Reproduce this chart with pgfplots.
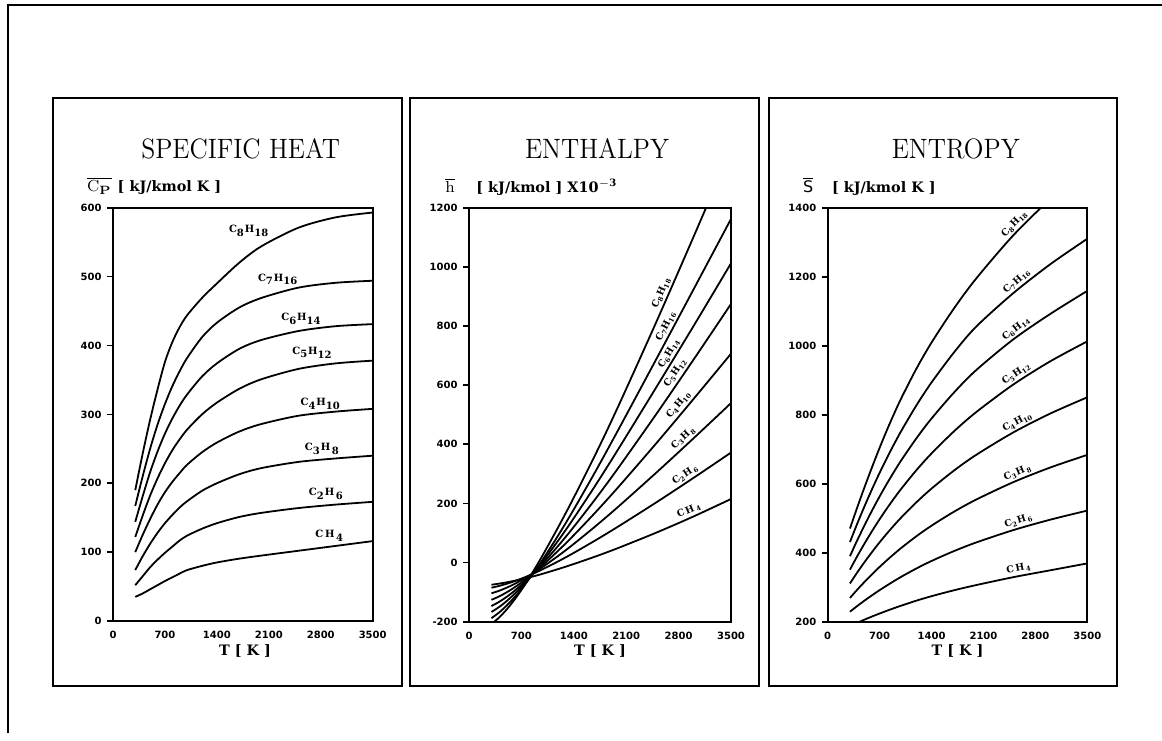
\documentclass[border=0pt]{standalone}
\usepackage{fontspec}
\usepackage{graphicx}
\usepackage{pgfplots}
\usepackage{pgfplotstable}
\pgfplotsset{compat=1.18}
\newfontfamily\tickfont{DejaVu Sans}
\newfontfamily\labfont{DejaVu Serif}
\newcommand\ovl[1]{\setbox0\hbox{#1}\rlap{\raisebox{\dimexpr\ht0+0.7pt\relax}{\rule{\wd0}{0.45pt}}}\box0}

% Specific heat, kJ/kmol K
\pgfplotstableread{
T    CH4   C2H6 C3H8 C4H10 C5H12 C6H14 C7H16 C8H18
300  35    52   74   100   122   144   167   190
400  40    65   94   125   153   181   210   243
500  46    78   112  148   182   216   250   292
600  52    89   128  169   207   246   285   336
700  58    99   142  187   229   272   315   376
800  63.5  108  154  202   248   294   341   405
900  69    117  165  215   264   313   363   427
1000 74    124  174  227   278   329   382   444
1200 80    134  189  245   300   355   412   469
1400 85    142  200  259   317   374   433   490
1700 90.5  151  213  275   337   395   455   520
2000 95    157  222  286   351   408   469   544
2500 102   164  231  298   366   421   484   571
3000 109   169  236  304   374   428   491   586
3500 116   173  240  308   378   431   494   593
}\cpdata

% Enthalpy, kJ/kmol x 10^-3
\pgfplotstableread{
T    CH4    C2H6   C3H8   C4H10  C5H12  C6H14  C7H16  C8H18
300  -75    -85    -104   -126   -147   -167   -188   -208
400  -71.3  -79.2  -95.6  -114.8 -133.3 -150.8 -169.2 -186.4
500  -67    -72    -85.3  -101.1 -116.5 -130.9 -146.2 -159.6
600  -62    -63.7  -73.3  -85.3  -97.1  -107.8 -119.4 -128.2
700  -56.5  -54.3  -59.8  -67.5  -75.3  -81.9  -89.4  -92.6
800  -50.5  -43.9  -45    -48    -51.4  -53.6  -56.6  -53.6
900  -43.9  -32.7  -29.1  -27.2  -25.8  -23.3  -21.4  -11.9
1000 -36.7  -20.6  -12.1  -5.1   1.3    8.9    15.9   31.8
1200 -21.3  5.2    24.2   42.2   59.1   77.3   95.3   123.6
1400 -4.8   32.8   63.1   92.6   120.8  150.2  179.8  219.8
1700 21.5   76.8   125.1  172.7  218.9  265.5  313    371.3
2000 50     123    190.3  256.8  322.1  386    451.6  531.8
2500 101    203.2  303.6  402.8  501.4  592    687    812.3
3000 156    286.5  420.3  553.3  686.4  800    924    1101.8
3500 215    372    539.3  706.3  874.4  1012   1162   1396.6
}\hdata

% Entropy, kJ/kmol K
\pgfplotstableread{
T    CH4    C2H6   C3H8   C4H10  C5H12  C6H14  C7H16  C8H18
300  186    229    269    311    351    390    431    470
400  196.8  245.8  293.2  343.4  390.6  436.8  485.2  532.3
500  206.4  261.8  316.2  373.8  427.9  481    536.5  592
600  215.3  277    338    402.7  463.4  523.2  585.3  649.2
700  223.8  291.5  358.9  430.2  497    563.1  631.6  704.1
800  231.9  305.3  378.6  456.1  528.9  600.9  675.4  756.2
900  239.7  318.6  397.4  480.7  559    636.6  716.8  805.3
1000 247.2  331.3  415.3  504    587.6  670.5  756.1  851.4
1200 261.3  354.8  448.4  547    640.3  732.8  828.5  935
1400 274    376.1  478.4  585.9  687.8  789    893.6  1009.2
1700 291    404.5  518.5  637.7  751.3  863.7  979.8  1107.3
2000 306.1  429.5  553.8  683.3  807.2  928.9  1054.9 1194.2
2500 329    465.4  604.3  748.4  887.2  1018   1152   1319.4
3000 349    495.7  646.9  803.3  954.7  1092   1236   1424.9
3500 369    522.1  683.6  850.5  1012.6 1159   1310   1515.8
}\sdata

\tikzset{clab/.style={font=\labfont\bfseries\fontsize{5}{6}\selectfont, inner sep=0pt},
  rlab/.style={font=\labfont\bfseries\fontsize{4.7}{5.5}\selectfont, anchor=south, inner sep=1.1pt}}
\pgfplotsset{panel/.style={
  scale only axis, anchor=south west,
  xmin=0, xmax=3500, xtick={0,700,...,3500},
  axis line style={line width=0.9pt},
  tick align=outside,
  major tick length=3pt,
  xtick pos=bottom, ytick pos=left,
  xtick style={draw=none},
  ytick style={line width=0.8pt, black},
  tick label style={font=\tickfont\bfseries\fontsize{5}{6}\selectfont},
  /pgf/number format/assume math mode=true,
  /pgf/number format/1000 sep={},
  yticklabel style={xshift=0.8pt},
  xticklabel style={yshift=1.5pt},
  cycle list={{black,solid}},
  every axis plot/.append style={line width=0.9pt, no markers, smooth},
}}

\begin{document}
\begin{tikzpicture}
\begin{scope}[x=0.5pt,y=-0.5pt]
\useasboundingbox (0,0) rectangle (1162,740);
\draw[line width=0.7pt] (8,733) -- (8,5) -- (1162,5);
\draw[line width=0.6pt] (53,98) rectangle (402,686);
\draw[line width=0.6pt] (410,98) rectangle (759,686);
\draw[line width=0.6pt] (769,98) rectangle (1117,686);
% titles
\node[anchor=base, font=\fontsize{14}{16}\selectfont, inner sep=0] at (240.7,158.3) {\scalebox{0.92}[1]{SPECIFIC HEAT}};
\node[anchor=base, font=\fontsize{14}{16}\selectfont, inner sep=0] at (597,158.3) {\scalebox{0.92}[1]{ENTHALPY}};
\node[anchor=base, font=\fontsize{14}{16}\selectfont, inner sep=0] at (955.7,158.3) {\scalebox{0.92}[1]{ENTROPY}};
% y labels
\node[anchor=base west, inner sep=0, font=\fontsize{8}{9}\selectfont] at (86.7,191.7) {\ovl{C\textsubscript{\bfseries P}}};
\node[anchor=base west, inner sep=0, font=\labfont\bfseries\fontsize{7.2}{9}\selectfont] at (117.3,191.7) {[ kJ/kmol K ]};
\node[anchor=base west, inner sep=0, font=\fontsize{8}{9}\selectfont] at (445,192.7) {\ovl{h}};
\node[anchor=base west, inner sep=0, font=\labfont\bfseries\fontsize{7.2}{9}\selectfont] at (476,192.7) {[ kJ/kmol ] X10\textsuperscript{$\mathbf{-}$3}};
\node[anchor=base west, inner sep=0, font=\tickfont\fontsize{8}{9}\selectfont] at (802.7,192.3) {\ovl{S}};
\node[anchor=base west, inner sep=0, font=\labfont\bfseries\fontsize{7.2}{9}\selectfont] at (831.7,192.3) {[ kJ/kmol K ]};
% x labels
\node[anchor=base, inner sep=0, font=\labfont\bfseries\fontsize{7.2}{9}\selectfont] at (245,655) {T [ K ]};
\node[anchor=base, inner sep=0, font=\labfont\bfseries\fontsize{7.2}{9}\selectfont] at (600,655) {T [ K ]};
\node[anchor=base, inner sep=0, font=\labfont\bfseries\fontsize{7.2}{9}\selectfont] at (957.5,655) {T [ K ]};
\end{scope}

% ---------- Specific heat ----------
\begin{axis}[panel, at={(56.5pt,-310.5pt)}, width=129.85pt, height=206.65pt,
  ymin=0, ymax=600, ytick={0,100,...,600}]
\addplot table[x=T,y=CH4]{\cpdata};
\addplot table[x=T,y=C2H6]{\cpdata};
\addplot table[x=T,y=C3H8]{\cpdata};
\addplot table[x=T,y=C4H10]{\cpdata};
\addplot table[x=T,y=C5H12]{\cpdata};
\addplot table[x=T,y=C6H14]{\cpdata};
\addplot table[x=T,y=C7H16]{\cpdata};
\addplot table[x=T,y=C8H18]{\cpdata};
\node[clab] at (axis cs:1835,566) {C\textsubscript{8}H\textsubscript{18}};
\node[clab] at (axis cs:2226,496) {C\textsubscript{7}H\textsubscript{16}};
\node[clab] at (axis cs:2540,438) {C\textsubscript{6}H\textsubscript{14}};
\node[clab] at (axis cs:2688,390) {C\textsubscript{5}H\textsubscript{12}};
\node[clab] at (axis cs:2799,315) {C\textsubscript{4}H\textsubscript{10}};
\node[clab] at (axis cs:2822,250) {C\textsubscript{3}H\,\textsubscript{8}};
\node[clab] at (axis cs:2876,185) {C\textsubscript{2}H\,\textsubscript{6}};
\node[clab] at (axis cs:2921,124) {C\,H\,\textsubscript{4}};
\end{axis}

% ---------- Enthalpy ----------
\begin{axis}[panel, at={(234.5pt,-310.85pt)}, width=131pt, height=207pt,
  ymin=-200, ymax=1200, ytick={-200,0,...,1200}]
\addplot table[x=T,y=CH4]{\hdata};
\addplot table[x=T,y=C2H6]{\hdata};
\addplot table[x=T,y=C3H8]{\hdata};
\addplot table[x=T,y=C4H10]{\hdata};
\addplot table[x=T,y=C5H12]{\hdata};
\addplot table[x=T,y=C6H14]{\hdata};
\addplot table[x=T,y=C7H16]{\hdata};
\addplot table[x=T,y=C8H18]{\hdata};
\node[rlab, rotate=66] at (axis cs:2657,903) {C\textsubscript{8}H\textsubscript{18}};
\node[rlab, rotate=63] at (axis cs:2715,788) {C\textsubscript{7}H\textsubscript{16}};
\node[rlab, rotate=59] at (axis cs:2755,695) {C\textsubscript{6}H\textsubscript{14}};
\node[rlab, rotate=56] at (axis cs:2835,628) {C\textsubscript{5}H\textsubscript{12}};
\node[rlab, rotate=50] at (axis cs:2875,517) {C\textsubscript{4}H\textsubscript{10}};
\node[rlab, rotate=43] at (axis cs:2932,404) {C\textsubscript{3}H\,\textsubscript{8}};
\node[rlab, rotate=34] at (axis cs:2945,277) {C\textsubscript{2}H\,\textsubscript{6}};
\node[rlab, rotate=23] at (axis cs:2978,154) {C\,H\,\textsubscript{4}};
\end{axis}

% ---------- Entropy ----------
\begin{axis}[panel, at={(413.85pt,-310.85pt)}, width=129.8pt, height=207pt,
  ymin=200, ymax=1400, ytick={200,400,...,1400}]
\addplot table[x=T,y=CH4]{\sdata};
\addplot table[x=T,y=C2H6]{\sdata};
\addplot table[x=T,y=C3H8]{\sdata};
\addplot table[x=T,y=C4H10]{\sdata};
\addplot table[x=T,y=C5H12]{\sdata};
\addplot table[x=T,y=C6H14]{\sdata};
\addplot table[x=T,y=C7H16]{\sdata};
\addplot table[x=T,y=C8H18]{\sdata};
\node[rlab, rotate=46] at (axis cs:2588,1338) {C\textsubscript{8}H\textsubscript{18}};
\node[rlab, rotate=41] at (axis cs:2615,1171) {C\textsubscript{7}H\textsubscript{16}};
\node[rlab, rotate=37] at (axis cs:2602,1033) {C\textsubscript{6}H\textsubscript{14}};
\node[rlab, rotate=34] at (axis cs:2599,901) {C\textsubscript{5}H\textsubscript{12}};
\node[rlab, rotate=28] at (axis cs:2606,760) {C\textsubscript{4}H\textsubscript{10}};
\node[rlab, rotate=23] at (axis cs:2601,613) {C\textsubscript{3}H\,\textsubscript{8}};
\node[rlab, rotate=17] at (axis cs:2604,472) {C\textsubscript{2}H\,\textsubscript{6}};
\node[rlab, rotate=11] at (axis cs:2597,333) {C\,H\,\textsubscript{4}};
\end{axis}
\end{tikzpicture}
\end{document}
